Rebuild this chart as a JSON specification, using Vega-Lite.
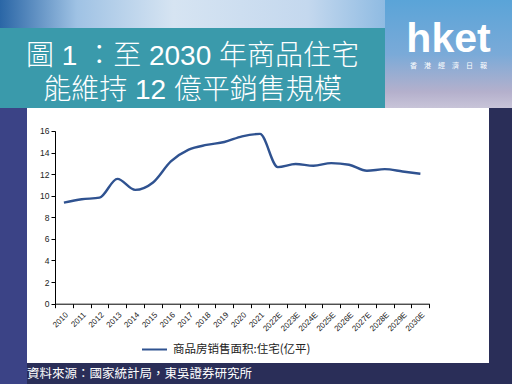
{
  "$schema": "https://vega.github.io/schema/vega-lite/v6.json",
  "background": "#2a2e58",
  "padding": 0,
  "spacing": 0,
  "config": {
    "view": {"stroke": null},
    "concat": {"spacing": 0},
    "font": "Liberation Sans"
  },
  "vconcat": [
    {
      "hconcat": [
        {
          "vconcat": [
            {
              "width": 385,
              "height": 28,
              "view": {"fill": {"gradient": "linear", "x1": 0, "y1": 0, "x2": 1, "y2": 0, "stops": [
                {"offset": 0, "color": "#2a66a6"},
                {"offset": 0.2, "color": "#9fc2e4"},
                {"offset": 0.45, "color": "#d6e4f2"},
                {"offset": 0.8, "color": "#c4d8ee"},
                {"offset": 1, "color": "#8fbbe2"}
              ]}},
              "data": {"values": []},
              "mark": "point"
            },
            {
              "width": 385,
              "height": 80,
              "view": {"fill": "#3a9aab"},
              "data": {"values": [
                {"line": 1, "text": "圖 1 ：至 2030 年商品住宅"},
                {"line": 2, "text": "能維持 12 億平銷售規模"}
              ]},
              "mark": {"type": "text", "color": "white", "fontSize": 28, "font": "Liberation Sans, Noto Sans CJK TC", "fontWeight": 300, "baseline": "middle"},
              "encoding": {
                "y": {"field": "line", "type": "ordinal", "scale": {"type": "point", "padding": 0.676, "align": 0.64}, "axis": null},
                "text": {"field": "text"}
              }
            }
          ]
        },
        {
          "width": 127,
          "height": 108,
          "view": {"fill": {"gradient": "linear", "x1": 0, "y1": 0, "x2": 0, "y2": 1, "stops": [
            {"offset": 0, "color": "#5aa4d8"},
            {"offset": 0.5, "color": "#7aaad8"},
            {"offset": 0.85, "color": "#b4b0cc"},
            {"offset": 1, "color": "#c8c4d8"}
          ]}},
          "resolve": {"scale": {"y": "independent"}},
          "layer": [
            {
              "data": {"values": [{"k": "a", "t": "hket"}]},
              "mark": {"type": "text", "color": "white", "fontSize": 41, "fontWeight": "bold", "font": "Liberation Sans", "baseline": "alphabetic"},
              "encoding": {
                "y": {"field": "k", "type": "nominal", "scale": {"type": "point", "align": 0.478}, "axis": null},
                "text": {"field": "t"}
              }
            },
            {
              "data": {"values": [{"k": "b", "t": "香　港　經　濟　日　報"}]},
              "mark": {"type": "text", "color": "white", "fontSize": 7, "font": "Liberation Sans, Noto Sans CJK TC", "baseline": "middle"},
              "encoding": {
                "y": {"field": "k", "type": "nominal", "scale": {"type": "point", "align": 0.61}, "axis": null},
                "text": {"field": "t"}
              }
            }
          ]
        }
      ]
    },
    {
      "hconcat": [
        {
          "width": 27,
          "height": 276,
          "view": {"fill": "#3b4386"},
          "data": {"values": []},
          "mark": "point"
        },
        {
          "width": 462,
          "height": 255,
          "view": {"fill": "white"},
          "title": {
            "text": "資料來源：國家統計局，東吳證券研究所",
            "orient": "bottom",
            "anchor": "start",
            "frame": "group",
            "color": "white",
            "fontSize": 12.5,
            "font": "Noto Sans CJK TC",
            "fontWeight": "normal",
            "offset": 5
          },
          "data": {"values": [
            {"year": "2010", "value": 9.36},
            {"year": "2011", "value": 9.67},
            {"year": "2012", "value": 9.82},
            {"year": "2013", "value": 11.56},
            {"year": "2014", "value": 10.54},
            {"year": "2015", "value": 11.22},
            {"year": "2016", "value": 13.17},
            {"year": "2017", "value": 14.26},
            {"year": "2018", "value": 14.7},
            {"year": "2019", "value": 14.97},
            {"year": "2020", "value": 15.5},
            {"year": "2021", "value": 15.72},
            {"year": "2022E", "value": 12.65},
            {"year": "2023E", "value": 12.93},
            {"year": "2024E", "value": 12.77},
            {"year": "2025E", "value": 13.02},
            {"year": "2026E", "value": 12.87},
            {"year": "2027E", "value": 12.31},
            {"year": "2028E", "value": 12.46},
            {"year": "2029E", "value": 12.24},
            {"year": "2030E", "value": 12.03}
          ]},
          "mark": {"type": "line", "interpolate": "monotone", "strokeWidth": 2.4},
          "encoding": {
            "x": {
              "field": "year",
              "type": "ordinal",
              "sort": null,
              "bandPosition": 0.5,
              "scale": {"type": "band", "range": [28, 402.3], "paddingInner": 0, "paddingOuter": 0},
              "axis": {
                "title": null,
                "offset": -59.3,
                "tickBand": "extent",
                "labelAngle": -45,
                "labelFontSize": 8,
                "labelColor": "#222222",
                "labelPadding": 3,
                "tickSize": 4,
                "tickColor": "#000000",
                "domainColor": "#000000",
                "grid": false
              }
            },
            "y": {
              "field": "value",
              "type": "quantitative",
              "scale": {"domain": [0, 16], "range": [195.7, 22.9], "nice": false, "zero": false},
              "axis": {
                "title": null,
                "offset": -28,
                "values": [0, 2, 4, 6, 8, 10, 12, 14, 16],
                "labelFontSize": 8.5,
                "labelColor": "#222222",
                "labelPadding": 2,
                "tickSize": 4,
                "tickColor": "#000000",
                "domainColor": "#000000",
                "grid": false
              }
            },
            "color": {
              "datum": "商品房销售面积:住宅(亿平)",
              "type": "nominal",
              "scale": {"range": ["#2f5290"]},
              "legend": {
                "title": null,
                "orient": "none",
                "legendX": 141,
                "legendY": 336,
                "padding": 0,
                "symbolType": "stroke",
                "symbolSize": 625,
                "symbolStrokeWidth": 2,
                "labelFont": "Noto Sans CJK SC",
                "labelFontSize": 11.5,
                "labelColor": "#222222",
                "labelOffset": 5
              }
            }
          }
        }
      ]
    }
  ]
}
